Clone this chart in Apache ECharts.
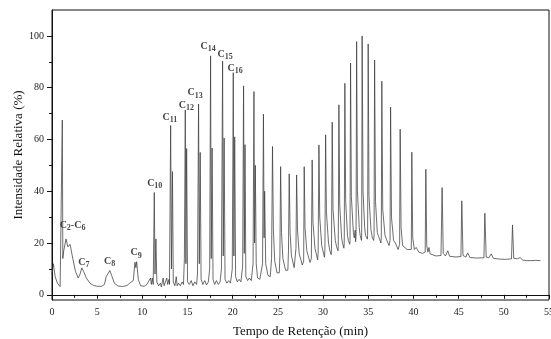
<!DOCTYPE html>
<html>
<head>
<meta charset="utf-8">
<script src="https://cdn.jsdelivr.net/npm/echarts@6/dist/echarts.min.js"></script>
<style>html,body{margin:0;padding:0;background:#fff;}#c{width:551px;height:339px;}</style>
</head>
<body>
<div id="c"></div>
<script>
// [retention time (min), relative intensity (%)]
const segmentEarly = [
  [0.00, 8], [0.15, 12], [0.35, 7], [0.6, 4.5], [0.9, 3.2], [1.08, 3], [1.14, 67.5], [1.2, 14],
  [1.3, 17], [1.55, 21.6], [1.75, 18.5], [2.0, 19.5], [2.3, 14], [2.6, 9], [2.9, 6.5], [3.1, 8],
  [3.3, 10.4], [3.5, 9], [3.8, 6.5], [4.2, 4.5], [4.6, 3.6], [5.0, 3.3], [5.5, 3.3], [5.8, 4],
  [6.0, 7], [6.15, 7.5], [6.4, 9.4], [6.6, 7.5], [6.9, 4.5], [7.3, 3.4], [7.8, 3.2], [8.3, 3.6],
  [8.6, 4.5], [8.8, 4], [9.0, 5.5], [9.18, 12.6], [9.28, 10.5], [9.37, 12.8], [9.55, 6], [9.8, 3.5],
  [10.2, 3.3], [10.5, 4], [10.7, 3.5], [10.9, 6.5], [11.0, 4], [11.1, 6.5], [11.2, 4]
];
const segmentC10toC16 = [
  [11.32, 39.5], [11.4, 8], [11.5, 21.6], [11.6, 5], [11.8, 3.5], [12.0, 4.5], [12.1, 3], [12.3, 6.5],
  [12.4, 3.5], [12.55, 5], [12.7, 6.5], [12.8, 4], [12.95, 6], [13.0, 4], [13.13, 65.4], [13.22, 10],
  [13.33, 47.6], [13.42, 5], [13.6, 3.5], [13.75, 7], [13.85, 3.5], [14.0, 4.5], [14.2, 3.5], [14.4, 5],
  [14.55, 4], [14.65, 14], [14.75, 71.4], [14.82, 12], [14.9, 56.5], [15.0, 5], [15.2, 4], [15.4, 5.5],
  [15.6, 3.5], [15.8, 5], [16.0, 4], [16.1, 8], [16.22, 73.7], [16.3, 12], [16.4, 55], [16.5, 6],
  [16.7, 4], [16.9, 5.5], [17.1, 3.8], [17.3, 5], [17.45, 10], [17.55, 92.3], [17.62, 14], [17.72, 56.7],
  [17.82, 6], [18.0, 4], [18.2, 5.5], [18.4, 4], [18.6, 5], [18.75, 10], [18.88, 90.3], [18.95, 15],
  [19.05, 60.6], [19.15, 6], [19.35, 4.5], [19.55, 5.5], [19.75, 4.5], [19.95, 10], [20.06, 85.8],
  [20.13, 15], [20.22, 61], [20.32, 7], [20.5, 5], [20.7, 6], [20.9, 5]
];
const segmentC17toC27 = [
  [21.1, 11], [21.2, 80.7], [21.28, 16], [21.36, 58], [21.45, 7], [21.65, 5.5], [21.85, 6.5], [22.05, 5.5],
  [22.25, 12], [22.35, 78.5], [22.42, 20], [22.5, 50], [22.6, 12], [22.75, 6.5], [23.0, 6], [23.3, 12],
  [23.4, 69.8], [23.47, 22], [23.53, 40], [23.65, 12], [23.9, 7.5], [24.15, 7], [24.3, 14], [24.4, 57.3],
  [24.5, 25], [24.65, 13], [24.9, 8.5], [25.15, 8.5], [25.22, 15], [25.3, 49.5], [25.4, 24], [25.55, 14],
  [25.85, 9.5], [26.1, 9.5], [26.17, 17], [26.25, 46.7], [26.35, 24], [26.5, 15], [26.8, 10.5],
  [26.98, 11], [27.0, 18], [27.07, 46.3], [27.17, 25], [27.35, 16], [27.7, 11.5], [27.85, 13],
  [27.91, 49.5], [28.0, 26], [28.2, 17], [28.55, 12.5], [28.7, 14], [28.79, 52.1], [28.88, 28],
  [29.1, 18], [29.4, 13.5], [29.45, 16], [29.54, 57.9], [29.63, 30], [29.85, 19], [30.15, 14.5]
];
const segmentC28toC36 = [
  [30.2, 17], [30.28, 61.8], [30.37, 32], [30.6, 20], [30.75, 17], [30.9, 15.5], [30.93, 18],
  [31.01, 66.7], [31.1, 33], [31.35, 21], [31.5, 18.5], [31.65, 17], [31.68, 19], [31.75, 73.4],
  [31.84, 35], [32.05, 22], [32.15, 20], [32.3, 18], [32.34, 20], [32.41, 81.7], [32.5, 36], [32.7, 23],
  [32.8, 21], [32.95, 19.5], [32.98, 21], [33.04, 89.5], [33.13, 38], [33.35, 24], [33.45, 22],
  [33.55, 25], [33.6, 20.5], [33.65, 23], [33.71, 97.8], [33.8, 40], [34.0, 26], [34.1, 23], [34.25, 21],
  [34.27, 24], [34.32, 100], [34.42, 40], [34.6, 26], [34.7, 23], [34.9, 21.5], [34.93, 23], [34.99, 96.9],
  [35.08, 38], [35.3, 25], [35.45, 22], [35.6, 21], [35.64, 23], [35.70, 90.7], [35.8, 36], [36.0, 24],
  [36.15, 22.5], [36.4, 20], [36.44, 22], [36.5, 82.5], [36.6, 33], [36.85, 23], [37.0, 21.5],
  [37.3, 19], [37.41, 21], [37.47, 72.5], [37.57, 30], [37.8, 21], [38.0, 20], [38.3, 17.5],
  [38.47, 19.5], [38.53, 64], [38.63, 26], [38.8, 19], [39.0, 19.5], [39.3, 17.5], [39.76, 17.5]
];
const segmentLate = [
  [39.82, 55.1], [39.92, 22], [40.1, 17.5], [40.3, 18.3], [40.6, 16.5], [41.0, 16], [41.3, 16.5],
  [41.37, 48.5], [41.47, 19], [41.6, 16.5], [41.72, 18.3], [41.85, 15.8], [42.5, 15], [43.05, 15.2],
  [43.17, 41.4], [43.3, 16], [43.55, 15], [43.8, 17], [44.0, 14.9], [44.7, 14.6], [45.25, 14.8],
  [45.35, 36.3], [45.48, 15.2], [45.8, 14.6], [46.0, 16.2], [46.25, 14.4], [47.0, 14.2], [47.8, 14.3],
  [47.9, 31.5], [48.05, 14.6], [48.35, 14.3], [48.6, 15.8], [48.85, 14.1], [49.5, 13.8], [50.2, 13.7],
  [50.85, 13.9], [50.96, 27], [51.1, 14.1], [51.5, 13.9], [51.8, 14.4], [52.1, 13.4], [52.5, 13.2],
  [53.0, 13.2], [53.5, 13.3], [54.06, 13.2]
];

// peak annotations (carbon number labels) anchored in data coordinates
const peakLabelText  = ['C2-C6', 'C7', 'C8', 'C9', 'C10', 'C11', 'C12', 'C13', 'C14', 'C15', 'C16'];
const peakLabelTime  = [2.27, 3.52, 6.38, 9.31, 11.37, 13.05, 14.86, 15.84, 17.28, 19.16, 20.27];
const peakLabelLevel = [26.6, 12.3, 12.7, 15.8, 42.8, 68.3, 72.9, 77.6, 95.7, 92.6, 87.2];

// tick labels
const yTickValues = [0, 20, 40, 60, 80, 100];
const yMinorTickValues = [10, 30, 50, 70, 90];

const trace = [].concat(segmentEarly, segmentC10toC16, segmentC17toC27, segmentC28toC36, segmentLate);

function toRich(s) {
  return s.replace(/(\d+)|([^\d]+)/g, (m, d, t) => d ? '{s|' + d + '}' : '{c|' + t + '}');
}

const labelData = peakLabelText.map((t, i) => ({ value: [peakLabelTime[i], peakLabelLevel[i]], name: t }));

const serif = 'Liberation Serif';
const chart = echarts.init(document.getElementById('c'), null, { renderer: 'canvas' });
chart.setOption({
  animation: false,
  backgroundColor: '#fff',
  grid: {
    left: 52, right: 2, top: 10, bottom: 39, containLabel: false, outerBoundsMode: 'none',
    show: true, borderColor: '#111', borderWidth: 1, backgroundColor: 'transparent'
  },
  xAxis: {
    type: 'value', min: 0, max: 55, interval: 5,
    name: 'Tempo de Retenção (min)', nameLocation: 'middle', nameGap: 25, nameMoveOverlap: false,
    nameTextStyle: { fontFamily: serif, fontSize: 13, color: '#111' },
    axisLine: { show: true, lineStyle: { color: '#111', width: 1 } },
    axisTick: { show: true, length: 4, inside: false, lineStyle: { color: '#111' } },
    minorTick: { show: true, splitNumber: 2, length: 3, lineStyle: { color: '#111' } },
    axisLabel: { fontFamily: serif, fontSize: 10, color: '#222', margin: 7, showMaxLabel: true },
    splitLine: { show: false }, minorSplitLine: { show: false }
  },
  yAxis: [{
    type: 'value', min: -2, max: 110,
    name: 'Intensidade Relativa (%)', nameLocation: 'middle', nameGap: 27, nameMoveOverlap: false,
    nameTextStyle: { fontFamily: serif, fontSize: 13, color: '#111' },
    axisLine: { show: true, lineStyle: { color: '#111', width: 1 } },
    axisTick: { show: true, length: 5, inside: false, customValues: yTickValues, lineStyle: { color: '#111' } },
    axisLabel: { fontFamily: serif, fontSize: 10, color: '#222', margin: 8, customValues: yTickValues },
    splitLine: { show: false }
  }, {
    type: 'value', min: -2, max: 110, position: 'left',
    axisLine: { show: false },
    axisTick: { show: true, length: 3, inside: false, customValues: yMinorTickValues, lineStyle: { color: '#111' } },
    axisLabel: { show: false },
    splitLine: { show: false }
  }],
  series: [{
    type: 'line', data: trace, showSymbol: false, symbol: 'none', smooth: false,
    clip: true,
    lineStyle: { color: '#3c3c3c', width: 0.75 }
  }, {
    type: 'scatter', data: labelData, symbolSize: 0, silent: true,
    label: {
      show: true, position: 'inside',
      formatter: p => toRich(p.name),
      rich: {
        c: { fontFamily: serif, fontWeight: 'bold', fontSize: 10, color: '#111', lineHeight: 12, verticalAlign: 'top' },
        s: { fontFamily: serif, fontWeight: 'bold', fontSize: 8, color: '#111', lineHeight: 8, verticalAlign: 'bottom' }
      }
    }
  }]
});
</script>
</body>
</html>
